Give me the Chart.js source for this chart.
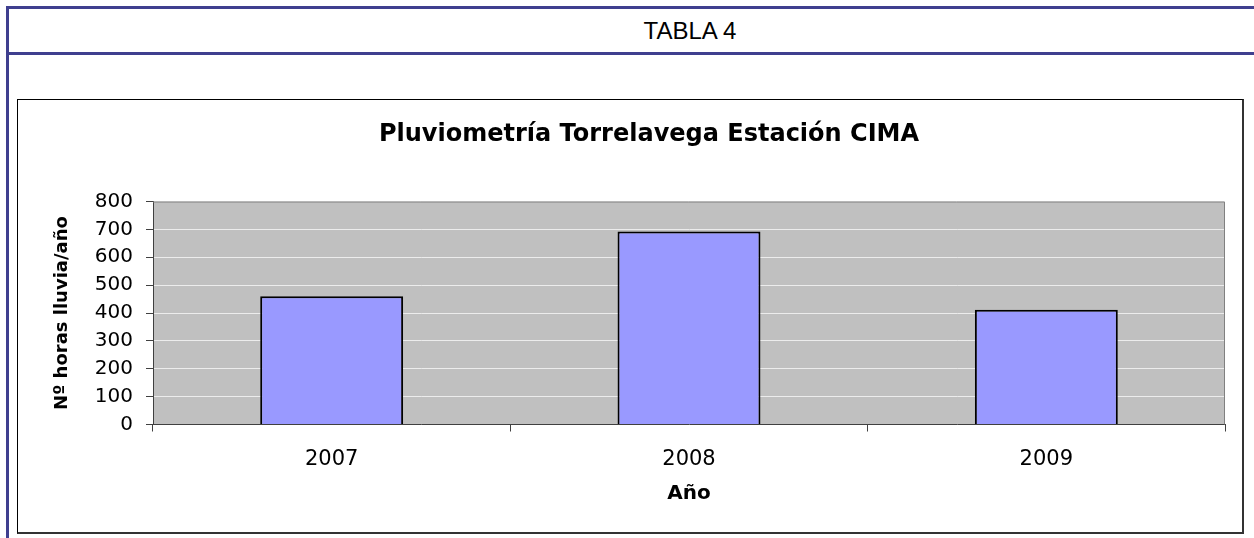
<!DOCTYPE html>
<html>
<head>
<meta charset="utf-8">
<script src="https://cdn.jsdelivr.net/npm/chart.js@4.4.1/dist/chart.umd.min.js"></script>
<style>
  html, body { margin: 0; padding: 0; background: #ffffff; }
  body { width: 1254px; height: 538px; position: relative; overflow: hidden; font-family: 'Liberation Sans', Arial, sans-serif; }
  .hline { position: absolute; background: #3f3f8f; height: 3px; left: 7px; right: 0; }
  .vline { position: absolute; background: #3f3f8f; width: 3px; left: 6px; top: 6px; bottom: 0; }
  .header { position: absolute; left: 590px; width: 200px; top: 17px; text-align: center; font-size: 24px; color: #000; }
  .box { position: absolute; left: 17px; top: 99px; width: 1227px; height: 435px; box-sizing: border-box;
         border-left: 1px solid #000; border-top: 1px solid #000; border-right: 2px solid #333; border-bottom: 2px solid #333; }
  canvas { position: absolute; left: 0; top: 0; }
</style>
</head>
<body>
<div class="hline" style="top:6px"></div>
<div class="hline" style="top:52px"></div>
<div class="vline"></div>
<div class="header">TABLA 4</div>
<div class="box"></div>
<canvas id="c" width="1254" height="538"></canvas>
<script>
// ---- data ----
const chartTitle = 'Pluviometría Torrelavega Estación CIMA';
const years = ['2007', '2008', '2009'];
const rainHours = [460, 692, 412];
const yTitle = 'Nº horas lluvia/año';
const xTitle = 'Año';
const yMin = 0;
const yMax = 800;
const yStep = 100;

const FONT = "'DejaVu Sans', 'Liberation Sans', Arial, sans-serif";

const plotFrame = {
  id: 'plotFrame',
  beforeDraw(chart) {
    const a = chart.chartArea, ctx = chart.ctx;
    ctx.save();
    ctx.fillStyle = '#c0c0c0';
    ctx.fillRect(a.left, a.top, a.right - a.left, a.bottom - a.top);
    ctx.restore();
  },
  beforeDatasetsDraw(chart) {
    const a = chart.chartArea, ctx = chart.ctx;
    ctx.save();
    ctx.strokeStyle = '#808080';
    ctx.lineWidth = 1;
    ctx.beginPath();
    ctx.moveTo(a.left, a.top + 0.5);
    ctx.lineTo(a.right - 0.5, a.top + 0.5);
    ctx.lineTo(a.right - 0.5, a.bottom);
    ctx.stroke();
    ctx.restore();
  }
};

new Chart(document.getElementById('c'), {
  type: 'bar',
  data: {
    labels: years,
    datasets: [{
      data: rainHours,
      backgroundColor: '#9999ff',
      borderColor: '#000000',
      borderWidth: 2,
      categoryPercentage: 0.4,
      barPercentage: 1.0
    }]
  },
  plugins: [plotFrame],
  options: {
    responsive: false,
    animation: false,
    devicePixelRatio: 1,
    layout: { padding: { left: 73, right: 29, top: 120.6, bottom: 0 } },
    plugins: {
      legend: { display: false },
      tooltip: { enabled: false },
      title: {
        display: true,
        text: chartTitle,
        color: '#000',
        font: { family: FONT, size: 24, weight: 'bold', lineHeight: 1.2 },
        padding: { top: 0, bottom: 52.1 }
      }
    },
    scales: {
      x: {
        afterFit(scale) { scale.height = 113.5; },
        grid: { display: true, drawOnChartArea: false, offset: true, tickLength: 7, tickColor: '#404040', lineWidth: 1 },
        border: { display: true, color: '#404040', width: 1 },
        ticks: { color: '#000', padding: 15.9, font: { family: FONT, size: 21, lineHeight: 1.2 } },
        title: { display: true, text: xTitle, color: '#000', font: { family: FONT, size: 20, weight: 'bold', lineHeight: 1.2 }, padding: { top: 0, bottom: 32 } }
      },
      y: {
        min: yMin,
        max: yMax,
        afterFit(scale) { scale.width = 80; },
        grid: { color: '#ececec', lineWidth: 1, tickLength: 7, tickColor: '#404040' },
        border: { display: true, color: '#404040', width: 1 },
        ticks: { stepSize: yStep, color: '#000', padding: 13, font: { family: FONT, size: 20 } },
        title: { display: true, text: yTitle, color: '#000', font: { family: FONT, size: 18, weight: 'bold', lineHeight: 1.2 }, padding: { top: -21.8, bottom: 0 } }
      }
    }
  }
});
</script>
</body>
</html>
